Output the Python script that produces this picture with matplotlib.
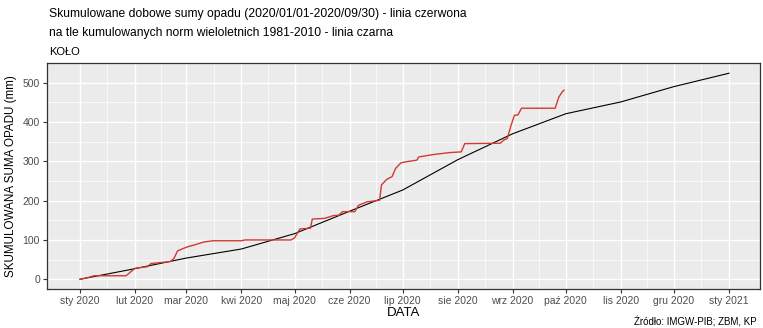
import numpy as np
import matplotlib
matplotlib.use("Agg")
import matplotlib.pyplot as plt
import matplotlib.dates as mdates
from matplotlib import font_manager

installed = {f.name for f in font_manager.fontManager.ttflist}
narrow = 'Liberation Sans Narrow' in installed
plt.rcParams['font.family'] = ['Liberation Sans', 'DejaVu Sans']
title_font = ['Liberation Sans Narrow', 'DejaVu Sans'] if narrow else ['Liberation Sans', 'DejaVu Sans']
title_size = 10.5 if narrow else 8.7

# norma wieloletnia 1981-2010 (skumulowana, na pocz. miesiaca)
norm_dates = ['2020-01-01', '2020-02-01', '2020-03-01', '2020-04-01', '2020-05-01',
              '2020-06-01', '2020-07-01', '2020-08-01', '2020-09-01', '2020-10-01',
              '2020-11-01', '2020-12-01', '2021-01-01']
norm_vals = [0, 27, 54, 77, 116, 173, 227, 304, 370, 421, 451, 490, 524]

# opad 2020 skumulowany (dzien roku od 1 stycznia, suma mm)
rain_day = [0, 5, 8, 26, 31, 38, 40, 51, 53, 55, 58, 61, 65, 70, 75, 91, 93, 119, 121,
            124, 130, 131, 138, 143, 146, 148, 155, 157, 162, 169, 170, 173, 176, 178,
            181, 184, 190, 191, 199, 208, 215, 217, 237, 239, 241, 243, 245, 247, 249,
            268, 270, 272, 273]
rain_vals = [0, 5, 9, 9, 28, 32, 40, 45, 53, 72, 78, 83, 88, 95, 98, 98, 100, 100, 105,
             128, 130, 153, 155, 162, 163, 172, 172, 188, 197, 201, 240, 254, 261, 282,
             296, 299, 303, 311, 317, 322, 324, 345, 346, 354, 358, 390, 417, 418, 435,
             435, 463, 477, 481]

months_pl = ['sty', 'lut', 'mar', 'kwi', 'maj', 'cze', 'lip', 'sie', 'wrz', 'paź', 'lis', 'gru']

start = np.datetime64('2020-01-01')
x_norm = mdates.date2num(np.array(norm_dates, dtype='datetime64[D]'))
x_rain = mdates.date2num(start + np.array(rain_day, dtype='timedelta64[D]'))

fig = plt.figure(figsize=(7.63, 3.28), dpi=100)
ax = fig.add_axes([47 / 763, 1 - 289 / 328, (760 - 47) / 763, (289 - 63) / 328])
ax.set_facecolor('#EBEBEB')

ax.plot(x_norm, norm_vals, color='black', lw=0.8, zorder=3)
ax.plot(x_rain, rain_vals, color='#D03A32', lw=1.0, zorder=4)

x0 = x_norm[0]
ax.set_xlim(x0 - 18.6, x0 + 383.5)
ax.set_ylim(-24.7, 550)

# siatka
ax.set_xticks(x_norm)
ax.set_xticklabels([m + ' 2020' for m in months_pl] + ['sty 2021'])
minor_x = (x_norm[:-1] + x_norm[1:]) / 2
ax.set_xticks(minor_x, minor=True)
ax.set_yticks([0, 100, 200, 300, 400, 500])
ax.set_yticks([50, 150, 250, 350, 450], minor=True)
ax.grid(which='major', color='white', lw=1.0)
ax.grid(which='minor', color='white', lw=0.5)
ax.set_axisbelow(True)

for s in ax.spines.values():
    s.set_color('#333333')
    s.set_linewidth(0.9)

ax.tick_params(which='major', length=3, color='#333333', labelsize=7.5,
               labelcolor='#4D4D4D', pad=2)
ax.tick_params(which='minor', length=0)

ax.set_xlabel('DATA', fontsize=9.5, labelpad=1)
ax.set_ylabel('SKUMULOWANA SUMA OPADU (mm)', fontsize=8.4, labelpad=4)

fig.text(49 / 763, 1 - 14 / 328,
         'Skumulowane dobowe sumy opadu (2020/01/01-2020/09/30) - linia czerwona',
         fontsize=title_size, family=title_font, va='center', ha='left')
fig.text(49 / 763, 1 - 33 / 328,
         'na tle kumulowanych norm wieloletnich 1981-2010 - linia czarna',
         fontsize=title_size, family=title_font, va='center', ha='left')
fig.text(49 / 763, 1 - 52 / 328, 'KOŁO', fontsize=8, va='center', ha='left')
fig.text(757 / 763, 1 - 322 / 328, 'Źródło: IMGW-PIB; ZBM, KP', fontsize=7,
         va='center', ha='right')

fig.savefig('out.png', dpi=100)
